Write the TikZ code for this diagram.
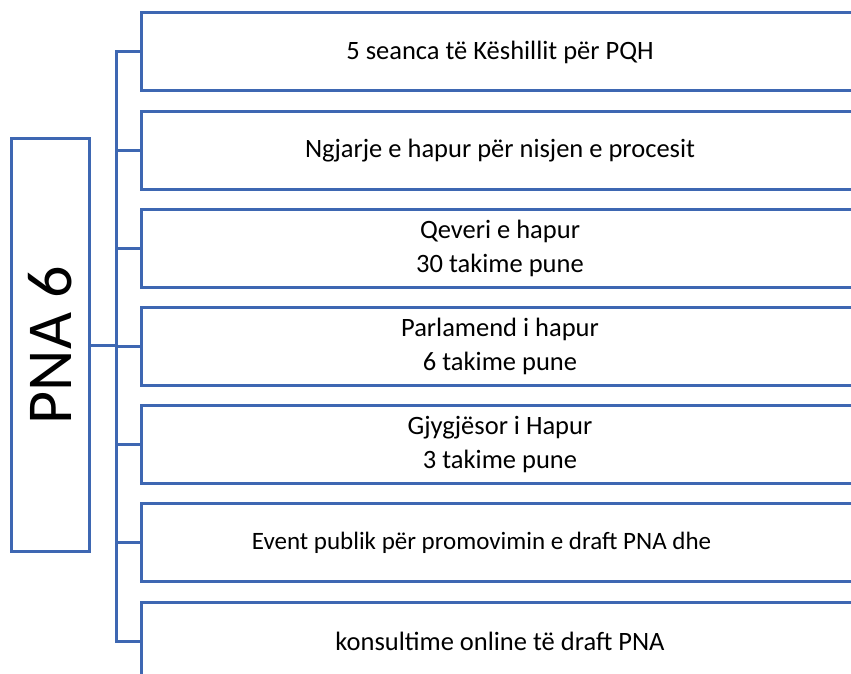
\documentclass[tikz,border=0pt]{standalone}
\usepackage{fontspec}
\setmainfont{Carlito}
\definecolor{lineblue}{RGB}{62,103,178}
\begin{document}
\begin{tikzpicture}[x=1pt,y=-1pt,
  item/.style={draw=lineblue,line width=3pt,minimum width=718pt,minimum height=78pt,
    inner sep=0pt,align=center,font=\fontsize{26.5}{34}\selectfont},
  mainbox/.style={draw=lineblue,line width=3pt,minimum width=78pt,minimum height=412pt,inner sep=0pt},
  conn/.style={draw=lineblue,line width=3pt,line join=miter}]
\clip (0,0) rectangle (851,674);
\node[mainbox] (pna) at (50.5,345) {\rotatebox{90}{\fontsize{64}{64}\selectfont PNA 6}};
\node[item] (b1) at (500,52) {5 seanca të Këshillit për PQH};
\node[item] (b2) at (500,150.2) {Ngjarje e hapur për nisjen e procesit};
\node[item] (b3) at (500,248.3) {Qeveri e hapur\\30 takime pune};
\node[item] (b4) at (500,346.5) {Parlamend i hapur\\6 takime pune};
\node[item] (b5) at (500,444.6) {Gjygjësor i Hapur\\3 takime pune};
\node[item,font=\fontsize{25}{34}\selectfont] (b6) at (500,542.7) {Event publik për promovimin e draft PNA dhe\hspace*{37pt}};
\node[item] (b7) at (500,641) {konsultime online të draft PNA};
\path (b1.center) ++(-384,0) coordinate (ttop);
\path (b7.center) ++(-384,0) coordinate (tbot);
\draw[conn] (b1.west) -- (ttop) -- (tbot) -- (b7.west);
\foreach \i in {2,...,6} {\draw[conn] (b\i.west) -- (b\i.west -| ttop);}
\draw[conn] (pna.east) -- (pna.east -| ttop);
\end{tikzpicture}
\end{document}
